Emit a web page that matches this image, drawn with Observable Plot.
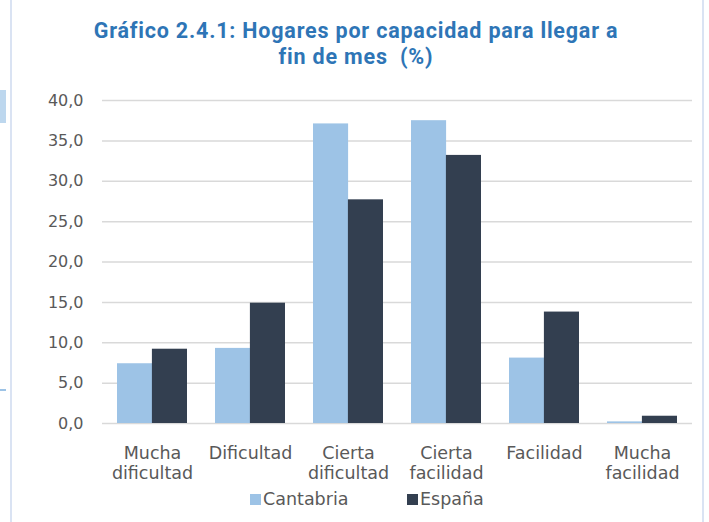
<!DOCTYPE html>
<html>
<head>
<meta charset="utf-8">
<script src="https://cdn.jsdelivr.net/npm/d3@7"></script>
<script src="https://cdn.jsdelivr.net/npm/@observablehq/plot@0.6"></script>
<style>
  body { margin: 0; background: #fff; }
  #wrap { position: relative; width: 709px; height: 522px; overflow: hidden; background: #fff; font-family: "DejaVu Sans", sans-serif; }
  .title { position: absolute; left: 0; width: 712px; text-align: center; font-family: Roboto, sans-serif; font-weight: 700; font-size: 21.5px; line-height: 25.3px; letter-spacing: 0.8px; color: #2E75B6; white-space: nowrap; }
  #chart { position: absolute; left: 0; top: 80px; }
  #legend { position: absolute; top: 489px; left: 0; width: 709px; height: 20px; font-size: 17.5px; line-height: 20px; color: #595959; }
  .sw { display: inline-block; width: 11px; height: 11px; margin-right: 2px; }
  .item { position: absolute; top: 0; display: flex; align-items: center; white-space: nowrap; height: 20px; }
  .frame { position: absolute; background: #DAE3F3; }
</style>
</head>
<body>
<div id="wrap">
  <div class="frame" style="left:10px; top:0; width:2px; height:522px;"></div>
  <div class="frame" style="left:702px; top:0; width:2px; height:522px;"></div>
  <div class="frame" style="left:0; top:90px; width:6px; height:33px; background:#BDD7EE;"></div>
  <div class="frame" style="left:0; top:389px; width:6px; height:2px; background:#9DC3E6;"></div>
  <div class="title" style="top:18px;">Gráfico 2.4.1: Hogares por capacidad para llegar a</div>
  <div class="title" style="top:43.5px;">fin de mes&nbsp; (%)</div>
  <div id="chart"></div>
  <div id="legend"></div>
</div>
<script>
const categories = ["Mucha dificultad", "Dificultad", "Cierta dificultad", "Cierta facilidad", "Facilidad", "Mucha facilidad"];
const tickLabels = ["Mucha\ndificultad", "Dificultad", "Cierta\ndificultad", "Cierta\nfacilidad", "Facilidad", "Mucha\nfacilidad"];
const series = ["Cantabria", "España"];
const colors = ["#9DC3E6", "#333F50"];
const cantabria = [7.4, 9.3, 37.1, 37.5, 8.1, 0.2];
const espana = [9.2, 14.9, 27.7, 33.2, 13.8, 0.9];
const yTicks = [0, 5, 10, 15, 20, 25, 30, 35, 40];

const dataC = categories.map((c, i) => ({category: c, series: series[0], value: cantabria[i]}));
const dataE = categories.map((c, i) => ({category: c, series: series[1], value: espana[i]}));

const fmt = d => d.toFixed(1).replace(".", ",");
const half = 34.9;

const chart = Plot.plot({
  width: 709,
  height: 405,
  marginLeft: 102,
  marginRight: 17,
  marginTop: 20,
  marginBottom: 62,
  style: {fontFamily: "DejaVu Sans, sans-serif", fontSize: "16px", color: "#595959", background: "transparent"},
  x: {domain: categories, paddingInner: 0.29, paddingOuter: 0.145, label: null, axis: null},
  y: {domain: [0, 40], label: null, axis: null},
  marks: [
    Plot.ruleY(yTicks, {stroke: "#D9D9D9", strokeWidth: 1.5}),
    Plot.barY(dataC, {x: "category", y: "value", fill: colors[0], insetRight: half}),
    Plot.barY(dataE, {x: "category", y: "value", fill: colors[1], insetLeft: half}),
    Plot.axisY({ticks: yTicks, tickFormat: fmt, tickSize: 0, tickPadding: 19, fontSize: 16, fill: "#595959", label: null}),
    Plot.axisX({tickFormat: d => tickLabels[categories.indexOf(d)], tickSize: 0, tickPadding: 21, fontSize: 17.5, lineHeight: 1.14, fill: "#595959", label: null})
  ]
});
document.getElementById("chart").appendChild(chart);

const legend = document.getElementById("legend");
const legendLeft = [250, 407];
series.forEach((s, i) => {
  const item = document.createElement("span");
  item.className = "item";
  item.style.left = legendLeft[i] + "px";
  item.innerHTML = `<span class="sw" style="background:${colors[i]}"></span>${s}`;
  legend.appendChild(item);
});
</script>
</body>
</html>
